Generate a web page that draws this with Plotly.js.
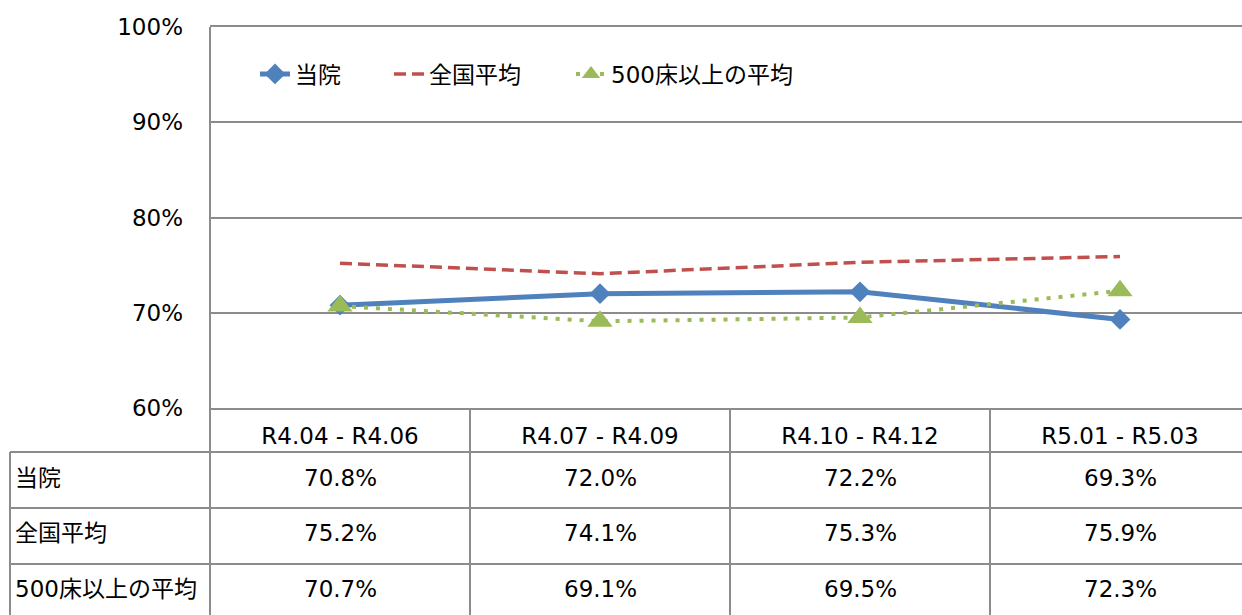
<!DOCTYPE html>
<html>
<head>
<meta charset="utf-8">
<script src="https://cdn.plot.ly/plotly-3.0.1.min.js"></script>
<style>
  html, body { margin: 0; padding: 0; background: #fff; overflow: hidden; }
  #graph { width: 1242px; height: 615px; }
</style>
</head>
<body>
<div id="graph"></div>
<script>
// periods (x categories)
var periods = ["R4.04 - R4.06", "R4.07 - R4.09", "R4.10 - R4.12", "R5.01 - R5.03"];

// series names
var names = ["当院", "全国平均", "500床以上の平均"];

// values in %
var ourHospital = [70.8, 72.0, 72.2, 69.3];
var nationalAvg = [75.2, 74.1, 75.3, 75.9];
var over500Avg = [70.7, 69.1, 69.5, 72.3];

var FONT = "DejaVu Sans, Verdana, 'Noto Sans CJK JP', sans-serif";
var FS = 23;
var GRID = "#8c8c8c";

function drawGraph() {
    var idx = periods.map(function (p, i) { return i; });
    var series = [ourHospital, nationalAvg, over500Avg];

    var traces = [
        {
            x: idx, y: ourHospital, name: names[0], legend: "legend",
            type: "scatter", mode: "lines+markers",
            line: { color: "#4F81BD", width: 5 },
            marker: { symbol: "diamond", size: 16, color: "#4F81BD" }
        },
        {
            x: idx, y: nationalAvg, name: names[1], legend: "legend2",
            type: "scatter", mode: "lines",
            line: { color: "#C0504D", width: 3.5, dash: "12px,6px" }
        },
        {
            x: idx, y: over500Avg, name: names[2], legend: "legend3",
            type: "scatter", mode: "lines+markers",
            line: { color: "#9BBB59", width: 4, dash: "4px,8px" },
            marker: { symbol: "triangle-up", size: 22, color: "#9BBB59" }
        }
    ];

    // table geometry (pixels -> paper coords)
    var L = 210, T = 27, B = 408, W = 1032, H = B - T;
    function px(x) { return (x - L) / W; }
    function py(y) { return (B - y) / H; }

    var rowLines = [452, 508, 564];
    var rowCenters = [478, 533, 589];
    var colLines = [470, 730, 990];

    var shapes = [];
    var lineStyle = { color: GRID, width: 2 };
    // horizontal table lines
    rowLines.forEach(function (y) {
        shapes.push({ type: "line", xref: "paper", yref: "paper",
            x0: px(10), x1: 1, y0: py(y), y1: py(y), line: lineStyle });
    });
    // left border of row header column
    shapes.push({ type: "line", xref: "paper", yref: "paper",
        x0: px(10), x1: px(10), y0: py(452), y1: py(615), line: lineStyle });
    // axis line extended down through the table
    shapes.push({ type: "line", xref: "paper", yref: "paper",
        x0: 0, x1: 0, y0: 1, y1: py(615), line: lineStyle });
    // column separators
    colLines.forEach(function (x) {
        shapes.push({ type: "line", xref: "paper", yref: "paper",
            x0: px(x), x1: px(x), y0: 0, y1: py(615), line: lineStyle });
    });

    var annotations = [];
    names.forEach(function (n, r) {
        annotations.push({ xref: "paper", yref: "paper", x: px(13), y: py(rowCenters[r]),
            xanchor: "left", yanchor: "middle", text: n, showarrow: false,
            font: { family: FONT, size: FS, color: "#000" } });
        series[r].forEach(function (v, c) {
            annotations.push({ xref: "x", yref: "paper", x: c, y: py(rowCenters[r]),
                xanchor: "center", yanchor: "middle", text: v.toFixed(1) + "%",
                showarrow: false, font: { family: FONT, size: FS, color: "#000" } });
        });
    });

    function legendAt(x) {
        return {
            orientation: "h", x: px(x), y: py(74),
            xanchor: "left", yanchor: "middle",
            bgcolor: "rgba(0,0,0,0)", font: { family: FONT, size: FS },
            itemwidth: 30
        };
    }

    var layout = {
        width: 1242, height: 615,
        margin: { l: L, r: 0, t: T, b: 615 - B },
        paper_bgcolor: "#fff", plot_bgcolor: "#fff",
        font: { family: FONT, size: FS, color: "#000" },
        showlegend: true,
        legend: legendAt(255),
        legend2: legendAt(389),
        legend3: legendAt(571),
        xaxis: {
            range: [-0.5, -0.5 + W / 260],
            tickvals: idx, ticktext: periods,
            showgrid: false, zeroline: false,
            showline: true, mirror: true, linecolor: GRID, linewidth: 2,
            ticks: "", ticklabelstandoff: 6,
            tickfont: { family: FONT, size: FS },
            fixedrange: true
        },
        yaxis: {
            range: [60, 100], dtick: 10, ticksuffix: "%",
            showgrid: true, gridcolor: GRID, gridwidth: 2,
            zeroline: false, showline: false,
            ticks: "", ticklabelstandoff: 26,
            tickfont: { family: FONT, size: FS },
            fixedrange: true
        },
        shapes: shapes,
        annotations: annotations
    };

    Plotly.newPlot("graph", traces, layout, { displayModeBar: false, staticPlot: true });
}

drawGraph();
</script>
</body>
</html>
